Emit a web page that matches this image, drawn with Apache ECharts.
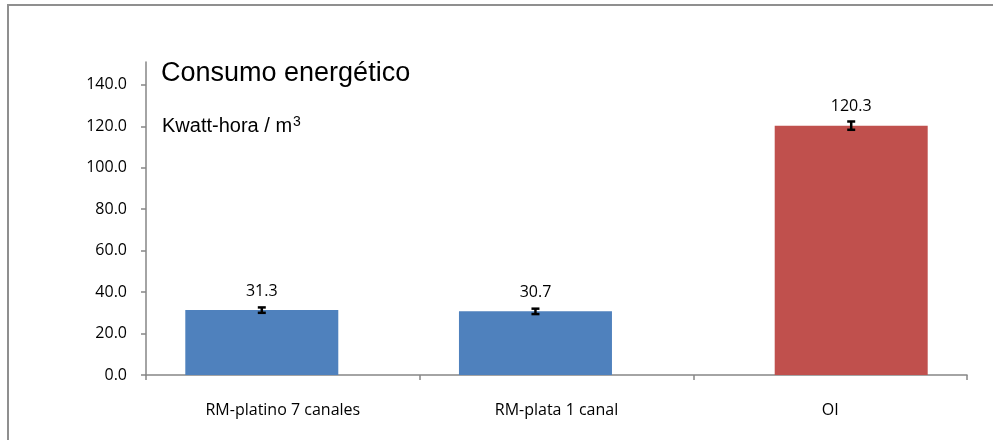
<!DOCTYPE html>
<html>
<head>
<meta charset="utf-8">
<script src="https://cdn.jsdelivr.net/npm/echarts@6/dist/echarts.min.js"></script>
<style>
html,body{margin:0;padding:0;background:#fff;}
#chart{width:993px;height:440px;}
</style>
</head>
<body>
<div id="chart"></div>
<script>
const categories = ['RM-platino 7 canales', 'RM-plata 1 canal', 'OI'];
const rmValues = [31.3, 30.7, null];
const oiValues = [null, null, 120.3];
const errors = [1.3, 1.3, 2.0];
const yTicks = [0, 20, 40, 60, 80, 100, 120, 140];
const titleText = 'Consumo energético';
const unitText = 'Kwatt-hora / m';
const unitSup = '3';

const BAR_W = 153;
const BAR_GAP = -0.725;
const OFFSET = BAR_W * (1 + BAR_GAP) / 2;

const errData = [];
categories.forEach((c, i) => {
  if (rmValues[i] != null) errData.push([i, rmValues[i], errors[i], -1]);
  if (oiValues[i] != null) errData.push([i, oiValues[i], errors[i], 1]);
});

const labelFont = '"Open Sans", "Noto Sans", sans-serif';
const arial = '"Liberation Sans", Arial, sans-serif';

const chart = echarts.init(document.getElementById('chart'), null, {renderer: 'canvas'});
chart.setOption({
  animation: false,
  backgroundColor: '#fff',
  grid: {left: 146, right: 26, top: 62, bottom: 65, containLabel: false},
  graphic: [
    {type: 'rect', shape: {x: 8, y: 5, width: 1000, height: 450},
     style: {fill: 'none', stroke: '#8f8f8f', lineWidth: 2}, silent: true, z: 100},
    {type: 'text', x: 161, y: 73.5,
     style: {text: titleText, font: '27px ' + arial, fill: '#000', verticalAlign: 'middle'}},
    {type: 'text', x: 162, y: 126,
     style: {text: '{a|' + unitText + '}{s|' + unitSup + '}', verticalAlign: 'middle',
       rich: {
         a: {fontFamily: arial, fontSize: 20, color: '#000', lineHeight: 22},
         s: {fontFamily: arial, fontSize: 14, color: '#000', verticalAlign: 'top', lineHeight: 22, padding: [0, 0, 6, 1]}
       }}}
  ],
  xAxis: {
    type: 'category',
    data: categories,
    axisLine: {lineStyle: {color: '#868686', width: 1.5}},
    axisTick: {show: true, length: 5, lineStyle: {color: '#868686', width: 1.5}},
    axisLabel: {color: '#000', fontSize: 16, fontFamily: labelFont, margin: 27}
  },
  yAxis: {
    type: 'value',
    min: 0,
    max: 151,
    splitLine: {show: false},
    axisLine: {show: true, lineStyle: {color: '#868686', width: 1.5}},
    axisTick: {show: true, length: 5, customValues: yTicks, lineStyle: {color: '#868686', width: 1.5}},
    axisLabel: {color: '#000', fontSize: 16, fontFamily: labelFont, margin: 19,
      customValues: yTicks, formatter: v => v.toFixed(1)}
  },
  series: [
    {
      type: 'bar', name: 'RM', data: rmValues, barWidth: BAR_W, barGap: (BAR_GAP * 100) + '%',
      itemStyle: {color: '#4F81BD'},
      label: {show: true, position: 'top', distance: 11, color: '#000', fontSize: 16, fontFamily: labelFont,
        formatter: p => p.value.toFixed(1)}
    },
    {
      type: 'bar', name: 'OI', data: oiValues, barWidth: BAR_W,
      itemStyle: {color: '#C0504D'},
      label: {show: true, position: 'top', distance: 11, color: '#000', fontSize: 16, fontFamily: labelFont,
        formatter: p => p.value.toFixed(1)}
    },
    {
      type: 'custom',
      data: errData,
      z: 10,
      renderItem: (params, api) => {
        const i = api.value(0), v = api.value(1), e = api.value(2), side = api.value(3);
        const hi = api.coord([i, v + e]);
        const lo = api.coord([i, v - e]);
        const x = hi[0] + side * OFFSET;
        const cw = 4;
        const st = {stroke: '#000', lineWidth: 2.5};
        return {type: 'group', children: [
          {type: 'line', shape: {x1: x, y1: hi[1], x2: x, y2: lo[1]}, style: st},
          {type: 'line', shape: {x1: x - cw, y1: hi[1], x2: x + cw, y2: hi[1]}, style: st},
          {type: 'line', shape: {x1: x - cw, y1: lo[1], x2: x + cw, y2: lo[1]}, style: st}
        ]};
      }
    }
  ]
});
</script>
</body>
</html>
